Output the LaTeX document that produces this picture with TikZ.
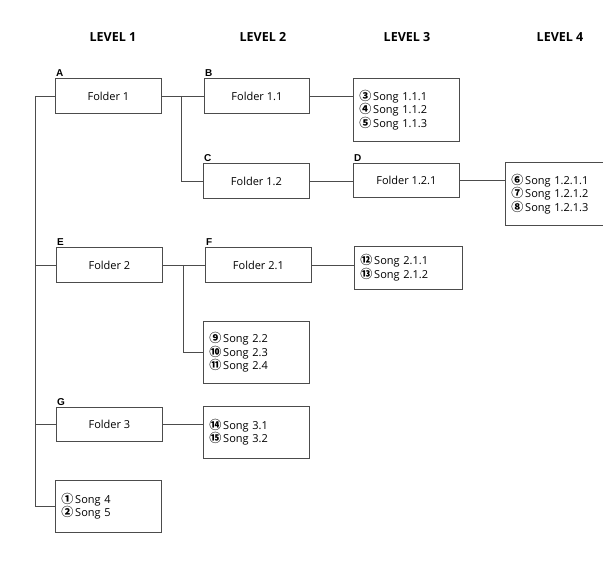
\documentclass[tikz,border=0pt]{standalone}
\usepackage{fontspec}
\setmainfont{Open Sans}
\newfontfamily\circfont{Noto Sans CJK JP}
\newfontfamily\tagfont{Liberation Sans}
\newcommand{\cnum}[1]{{\circfont\bfseries\fontsize{12}{13.5}\selectfont #1}}
\usetikzlibrary{positioning}
\tikzset{
  folder/.style={draw=black!70, line width=0.8pt, minimum width=106pt, minimum height=35pt,
    anchor=north west, inner sep=0pt, font=\fontsize{11}{13.5}\selectfont},
  songs/.style={draw=black!70, line width=0.8pt, anchor=north west, align=left,
    inner xsep=6pt, inner ysep=0pt, text width=94pt, font=\fontsize{11}{13.5}\selectfont},
  tag/.style={anchor=south west, inner sep=1pt, font=\tagfont\bfseries\fontsize{10}{12}\selectfont},
  level/.style={font=\bfseries\fontsize{12.5}{14}\selectfont},
  link/.style={draw=black!70, line width=0.8pt},
  elbow/.style={to path={|- (\tikztotarget)}}
}
\begin{document}
\begin{tikzpicture}[x=1pt, y=-1pt]
            \useasboundingbox (0,0) rectangle (603,562);
            \node[level] (l1) at (113,37) {LEVEL 1};
            \node[level] (l2) at (263,37) {LEVEL 2};
            \node[level] (l3) at (407,37) {LEVEL 3};
            \node[level] (l4) at (560,37) {LEVEL 4};

            \node[folder] (1) at (55,78) {Folder 1};
            \node[folder, minimum width=105pt] (11) at (204,78) {Folder 1.1};
            \node[songs, minimum height=63pt] (s11) at (353,78)
              {\cnum{③}\,Song 1.1.1\\ \cnum{④}\,Song 1.1.2\\ \cnum{⑤}\,Song 1.1.3};
            \node[folder] (12) at (203,163) {Folder 1.2};
            \node[folder, minimum height=34pt] (121) at (353,163) {Folder 1.2.1};
            \node[songs, minimum height=63pt, text width=98pt] (s121) at (505,162)
              {\cnum{⑥}\,Song 1.2.1.1\\ \cnum{⑦}\,Song 1.2.1.2\\ \cnum{⑧}\,Song 1.2.1.3};

            \node[folder] (2) at (56,247) {Folder 2};
            \node[folder] (21) at (205,247) {Folder 2.1};
            \node[songs, minimum height=43pt, text width=96pt] (s21) at (354,246)
              {\cnum{⑫}\,Song 2.1.1\\ \cnum{⑬}\,Song 2.1.2};
            \node[songs, minimum height=62pt] (s22) at (203,321)
              {\cnum{⑨}\,Song 2.2\\ \cnum{⑩}\,Song 2.3\\ \cnum{⑪}\,Song 2.4};

            \node[folder, minimum height=34pt] (3) at (56,407) {Folder 3};
            \node[songs, minimum height=52pt] (s3) at (203,406)
              {\cnum{⑭}\,Song 3.1\\ \cnum{⑮}\,Song 3.2};
            \node[songs, minimum height=52pt] (s4) at (55,480)
              {\cnum{①}\,Song 4\\ \cnum{②}\,Song 5};

            \node[tag] (tA) at (1.north west) {A};
            \node[tag] (tB) at (11.north west) {B};
            \node[tag] (tC) at (12.north west) {C};
            \node[tag] (tD) at (121.north west) {D};
            \node[tag] (tE) at (2.north west) {E};
            \node[tag] (tF) at (21.north west) {F};
            \node[tag] (tG) at (3.north west) {G};

            \coordinate (j1) at ([xshift=-20pt]1.west);
            \coordinate (j2) at ([xshift=20pt]1.east);
            \coordinate (j3) at ([xshift=21pt]2.east);

            \path[link]
            (1.west) edge (j1)
            (j1) edge[elbow] (s4.west)
            (2.west) edge (2.west -| j1)
            (3.west) edge (3.west -| j1)
            (1.east) edge (11.west)
            (j2) edge[elbow] (12.west)
            (11.east) edge (11.east -| s11.west)
            (12.east) edge (12.east -| 121.west)
            (121.east) edge (121.east -| s121.west)
            (2.east) edge (21.west)
            (j3) edge[elbow] (s22.west)
            (21.east) edge (21.east -| s21.west)
            (3.east) edge (3.east -| s3.west);

        \end{tikzpicture}
\end{document}
